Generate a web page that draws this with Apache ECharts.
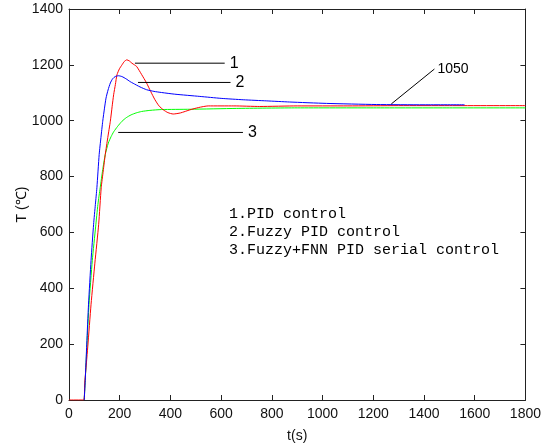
<!DOCTYPE html>
<html>
<head>
<meta charset="utf-8">
<script src="https://cdn.jsdelivr.net/npm/echarts@6/dist/echarts.min.js"></script>
<style>html,body{margin:0;padding:0;background:#fff;}#c{width:544px;height:448px;}</style>
</head>
<body>
<div id="c"></div>
<script>
// Axis ticks
const xTicks = [0, 200, 400, 600, 800, 1000, 1200, 1400, 1600, 1800];
const yTicks = [0, 200, 400, 600, 800, 1000, 1200, 1400];

// Curve 1: PID control (red)  [t(s), T]
const pidData = [[0,0],[58,0],[62,60],[74,190],[87,343],[102,490],[117,629],[127,760],[135,820],[143,879],[153,940],[163,998],[170,1050],[176,1093],[183,1130],[189,1164],[199,1186],[209,1200],[218,1212],[228,1218],[238,1214],[248,1206],[258,1200],[267,1194],[286,1166],[306,1135],[322,1105],[339,1075],[355,1053],[372,1039],[390,1029],[411,1024],[440,1028],[477,1039],[510,1047],[549,1053],[650,1053],[752,1051],[900,1053],[1100,1053],[1300,1054],[1500,1054],[1800,1054]];
// Curve 2: Fuzzy PID control (blue)
const fuzzyData = [[60,0],[64,70],[70,200],[77,343],[87,500],[97,629],[104,700],[110,760],[119,879],[126,940],[133,998],[140,1045],[146,1081],[154,1110],[163,1135],[172,1150],[182,1158],[195,1161],[209,1158],[225,1150],[241,1140],[253,1134],[280,1121],[306,1111],[335,1105],[365,1101],[417,1095],[516,1087],[600,1080],[687,1075],[780,1071],[870,1067],[1015,1062],[1212,1058],[1400,1057],[1560,1057]];
// Curve 3: Fuzzy+FNN PID serial control (green)
const fnnData = [[60,0],[64,70],[71,200],[79,343],[92,500],[105,620],[114,700],[123,760],[133,825],[143,879],[155,920],[166,943],[176,960],[192,980],[209,998],[226,1011],[245,1021],[265,1028],[286,1033],[319,1037],[365,1040],[477,1041],[660,1044],[900,1046],[1200,1046],[1500,1046],[1800,1046]];

// Annotation leader lines and their labels
const leader1 = [[260,1206],[614,1206]];
const leader2 = [[272,1137],[637,1137]];
const leader3 = [[194,958],[686,958]];
const leader1050 = [[1271,1060],[1441,1185]];
const leaderLabels = ['1', '2', '3', '1050'];

// Legend text
const legendLines = ['1.PID control', '2.Fuzzy PID control', '3.Fuzzy+FNN PID serial control'];

const chart = echarts.init(document.getElementById('c'), null, {renderer: 'canvas'});

const axisCommon = {
  type: 'value',
  axisLine: {show: true, onZero: false, lineStyle: {color: '#222', width: 1}},
  axisTick: {show: true, inside: true, length: 5, lineStyle: {color: '#222'}},
  splitLine: {show: false}
};

function leaderSeries(data, label, gap) {
  return {
    type: 'line', data: data, symbol: 'none', silent: true, animation: false,
    xAxisIndex: 0, yAxisIndex: 0,
    lineStyle: {color: '#000', width: 1},
    endLabel: {show: true, formatter: label, color: '#000', fontFamily: 'Liberation Sans', fontSize: label.length > 1 ? 14 : 16, distance: gap}
  };
}

const plain = function (v) { return String(v); };

chart.setOption({
  backgroundColor: '#fff',
  animation: false,
  grid: {left: 69, right: 18, top: 9, bottom: 47, containLabel: false},
  xAxis: [
    Object.assign({}, axisCommon, {
      position: 'bottom', min: xTicks[0], max: xTicks[xTicks.length - 1], interval: 200,
      axisLabel: {color: '#111', fontFamily: 'Liberation Sans', fontSize: 14, margin: 7, formatter: plain},
      name: 't(s)', nameLocation: 'middle', nameGap: 29, nameMoveOverlap: false,
      nameTextStyle: {color: '#111', fontFamily: 'Liberation Sans', fontSize: 14}
    }),
    Object.assign({}, axisCommon, {
      position: 'top', min: xTicks[0], max: xTicks[xTicks.length - 1], interval: 200,
      axisLabel: {show: false}
    })
  ],
  yAxis: [
    Object.assign({}, axisCommon, {
      position: 'left', min: yTicks[0], max: yTicks[yTicks.length - 1], interval: 200,
      axisLabel: {color: '#111', fontFamily: 'Liberation Sans', fontSize: 14, margin: 6, formatter: plain},
      name: 'T (℃)', nameLocation: 'middle', nameGap: 40, nameRotate: 90, nameMoveOverlap: false,
      nameTextStyle: {color: '#111', fontFamily: 'Liberation Sans', fontSize: 14}
    }),
    Object.assign({}, axisCommon, {
      position: 'right', min: yTicks[0], max: yTicks[yTicks.length - 1], interval: 200,
      axisLabel: {show: false}
    })
  ],
  series: [
    {type: 'line', name: 'FNN', data: fnnData, symbol: 'none', smooth: 0.2, lineStyle: {color: '#00ff00', width: 1}},
    {type: 'line', name: 'PID', data: pidData, symbol: 'none', smooth: 0.2, lineStyle: {color: '#ff0000', width: 1}},
    {type: 'line', name: 'Fuzzy', data: fuzzyData, symbol: 'none', smooth: 0.2, lineStyle: {color: '#0000ff', width: 1}},
    leaderSeries(leader1, leaderLabels[0], 5),
    leaderSeries(leader2, leaderLabels[1], 5),
    leaderSeries(leader3, leaderLabels[2], 5),
    leaderSeries(leader1050, leaderLabels[3], 3)
  ],
  graphic: legendLines.map(function (t, i) {
    return {
      type: 'text', left: 229, top: 207 + i * 18, silent: true,
      style: {text: t, fill: '#000', font: '15px "Liberation Mono"'}
    };
  })
});
</script>
</body>
</html>
